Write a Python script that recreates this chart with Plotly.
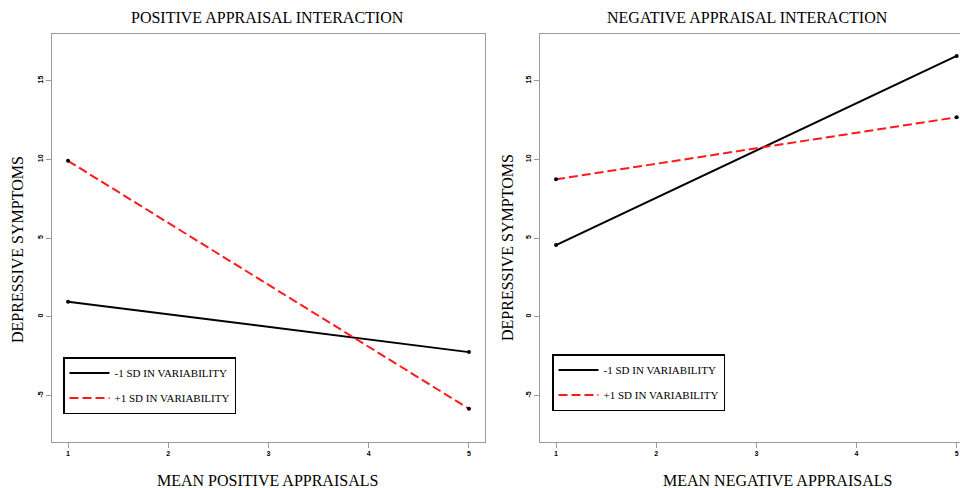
import plotly.graph_objects as go

# ---- data ----
x_levels = [1, 5]
pos_low_sd = [0.95, -2.25]
pos_high_sd = [9.9, -5.85]
neg_low_sd = [4.55, 16.57]
neg_high_sd = [8.73, 12.67]

x_ticks = [1, 2, 3, 4, 5]
y_ticks = [-5, 0, 5, 10, 15]
y_tick_labels = ["-5", "0", "5", "10", "15"]

series_names = ["-1 SD IN VARIABILITY", "+1 SD IN VARIABILITY"]
panel_titles = ["POSITIVE APPRAISAL INTERACTION", "NEGATIVE APPRAISAL INTERACTION"]
x_titles = ["MEAN POSITIVE APPRAISALS", "MEAN NEGATIVE APPRAISALS"]
y_title = "DEPRESSIVE SYMPTOMS"

W, H = 960, 488
SERIF = "Liberation Serif, Times New Roman, serif"
SANS = "Liberation Sans, Arial, sans-serif"
FRAME = "#9a9a9a"

fig = go.Figure()

panels = [
    ("x", "y", pos_low_sd, pos_high_sd, "legend"),
    ("x2", "y2", neg_low_sd, neg_high_sd, "legend2"),
]
for xa, ya, low, high, leg in panels:
    fig.add_trace(go.Scatter(
        x=x_levels, y=low, mode="lines", name=series_names[0],
        line=dict(color="black", width=2), xaxis=xa, yaxis=ya,
        legend=leg, legendgroup=leg + "a"))
    fig.add_trace(go.Scatter(
        x=x_levels, y=high, mode="lines", name=series_names[1],
        line=dict(color="#ff1a1a", width=2, dash="9px,4px"), xaxis=xa, yaxis=ya,
        legend=leg, legendgroup=leg + "b"))
    fig.add_trace(go.Scatter(
        x=x_levels + x_levels, y=low + high, mode="markers", showlegend=False,
        marker=dict(color="black", size=4), cliponaxis=False, xaxis=xa, yaxis=ya))

ydom = [(H - 442) / H, (H - 34) / H]
axis_common = dict(showgrid=False, zeroline=False, showline=True, linecolor=FRAME,
                   linewidth=1, ticks="outside", ticklen=5, tickcolor=FRAME,
                   tickfont=dict(family=SANS, size=7, color="black", weight="bold"))

fig.update_layout(
    width=W, height=H, autosize=False,
    margin=dict(l=0, r=0, t=0, b=0),
    paper_bgcolor="white", plot_bgcolor="white",
    xaxis=dict(domain=[52 / W, 485 / W], range=[0.84, 5.16], tickvals=x_ticks,
               mirror=True, anchor="y", **axis_common),
    yaxis=dict(domain=ydom, range=[-7.96, 17.96], tickvals=y_ticks,
               ticktext=y_tick_labels, tickangle=-90, mirror=True, anchor="x",
               **axis_common),
    xaxis2=dict(domain=[540 / W, 1.0], range=[0.84, 5.033], tickvals=x_ticks,
                mirror=True, anchor="y2", **axis_common),
    yaxis2=dict(domain=ydom, range=[-7.96, 17.96], tickvals=y_ticks,
                ticktext=y_tick_labels, tickangle=-90, mirror=False, anchor="x2",
                **axis_common),
    legend=dict(x=63 / W, y=(H - 357) / H, xanchor="left", yanchor="top",
                bordercolor="black", borderwidth=1.5, bgcolor="white",
                font=dict(family=SERIF, size=11, color="black"),
                tracegroupgap=6, itemwidth=40),
    legend2=dict(x=552 / W, y=(H - 354) / H, xanchor="left", yanchor="top",
                 bordercolor="black", borderwidth=1.5, bgcolor="white",
                 font=dict(family=SERIF, size=11, color="black"),
                 tracegroupgap=6, itemwidth=40),
)

def ann(text, px, py, size=16, angle=0):
    fig.add_annotation(text=text, x=px / W, y=1 - py / H, xref="paper", yref="paper",
                       showarrow=False, xanchor="center", yanchor="middle",
                       textangle=angle, font=dict(family=SERIF, size=size, color="black"))

ann(panel_titles[0], 267, 18)
ann(panel_titles[1], 747, 18)
ann(x_titles[0], 267.5, 480)
ann(x_titles[1], 777.5, 480)
ann(y_title, 18, 250, angle=-90)
ann(y_title, 507, 247, angle=-90)

fig.write_html(
    "out.html",
    config={"displayModeBar": False},
    post_script="document.body.style.margin='0';document.body.style.overflow='hidden';",
)
